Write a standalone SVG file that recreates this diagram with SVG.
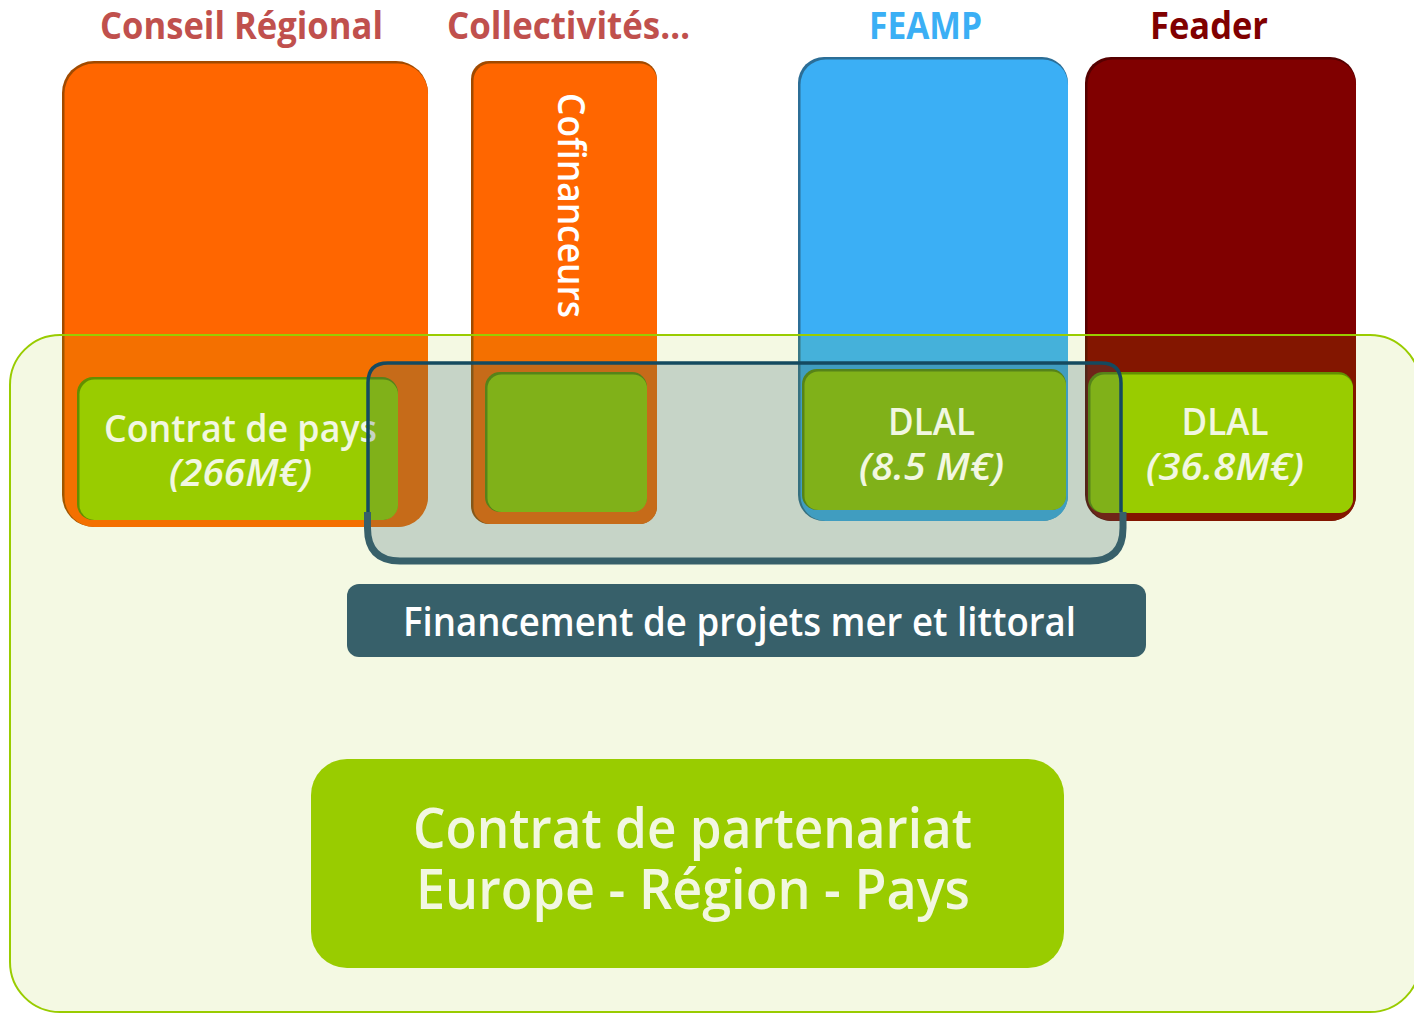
<svg xmlns="http://www.w3.org/2000/svg" width="1414" height="1013" viewBox="0 0 1414 1013">
<style>
text{font-family:"Open Sans","DejaVu Sans",sans-serif;font-weight:600;text-anchor:middle}
.title{font-size:38px;font-weight:bold}
.cream{fill:#F2F7E1}
.mid{font-size:37px}
.it{font-style:italic;font-size:37px}
.green{fill:#99CC00}
.greenEdge{fill:#628F00}
</style>
<rect width="1414" height="1013" fill="#FFFFFF"/>

<g id="title-conseil"><text class="title" x="241.5" y="39" fill="#C0504D" textLength="283" lengthAdjust="spacingAndGlyphs">Conseil Régional</text></g>
<g id="title-collectivites"><text class="title" x="568.5" y="39" fill="#C0504D" textLength="243" lengthAdjust="spacingAndGlyphs">Collectivités…</text></g>
<g id="title-feamp"><text class="title" x="925.5" y="39" fill="#3BAFF5" textLength="113" lengthAdjust="spacingAndGlyphs">FEAMP</text></g>
<g id="title-feader"><text class="title" x="1209" y="39" fill="#800000" textLength="118" lengthAdjust="spacingAndGlyphs">Feader</text></g>

<g id="bar-conseil">
<rect x="62" y="61" width="366" height="466" rx="32" fill="#A04A00"/>
<rect x="64.5" y="63.5" width="363.5" height="463.5" rx="30" fill="#FF6600"/>
</g>
<g id="bar-collectivites">
<rect x="471" y="61" width="186" height="463" rx="18" fill="#A04A00"/>
<rect x="473.5" y="63.5" width="183.5" height="460.5" rx="17" fill="#FF6600"/>
<text x="0" y="0" transform="translate(558,205.5) rotate(90)" font-size="38" font-weight="bold" fill="#FFFFFF" textLength="225" lengthAdjust="spacingAndGlyphs">Cofinanceurs</text>
</g>
<g id="bar-feamp">
<rect x="798" y="57" width="270" height="464" rx="26" fill="#2C6E96"/>
<rect x="800.5" y="59.5" width="267.5" height="461.5" rx="25" fill="#3BAFF5"/>
</g>
<g id="bar-feader">
<rect x="1085" y="57" width="271" height="464" rx="26" fill="#560000"/>
<rect x="1087.5" y="59.5" width="268.5" height="461.5" rx="25" fill="#800000"/>
</g>

<g id="contrat-partenariat-zone">
<rect x="10" y="335" width="1410" height="677" rx="50" fill="#99CC00" fill-opacity="0.11" stroke="#99CC00" stroke-width="2"/>
</g>

<g id="contrat-de-pays">
<rect class="greenEdge" x="77" y="377" width="321" height="143" rx="16"/>
<rect class="green" x="79.5" y="379.5" width="318.5" height="140.5" rx="15"/>
<text class="cream mid" x="240.5" y="442" textLength="273" lengthAdjust="spacingAndGlyphs">Contrat de pays</text>
<text class="cream it" x="240.5" y="486" textLength="143" lengthAdjust="spacingAndGlyphs">(266M€)</text>
</g>
<g id="cofinanceurs-box">
<rect class="greenEdge" x="485" y="372" width="162" height="140" rx="15"/>
<rect class="green" x="487.5" y="374.5" width="159.5" height="137.5" rx="14"/>
</g>
<g id="dlal-feamp">
<rect class="greenEdge" x="802" y="369" width="264" height="141" rx="15"/>
<rect class="green" x="804.5" y="371.5" width="261.5" height="138.5" rx="14"/>
</g>
<g id="dlal-feader">
<rect class="greenEdge" x="1088" y="372" width="265" height="141" rx="15"/>
<rect class="green" x="1090.5" y="374.5" width="262.5" height="138.5" rx="14"/>
<text class="cream mid" x="1225" y="435" textLength="87" lengthAdjust="spacingAndGlyphs">DLAL</text>
<text class="cream it" x="1225" y="480" textLength="158" lengthAdjust="spacingAndGlyphs">(36.8M€)</text>
</g>

<g id="mer-littoral-bracket">
<path d="M368,512 V383 Q368,363 388,363 H1101 Q1121,363 1121,383 V512 V530 Q1121,561 1090,561 H399 Q368,561 368,530 Z" fill="#2E5C6A" fill-opacity="0.23"/>
<path d="M368,512 V383 Q368,363 388,363 H1101 Q1121,363 1121,383 V512" fill="none" stroke="#144A60" stroke-width="3.5"/>
<path d="M367.5,512 V528 Q367.5,561 400,561 H1090 Q1123,561 1123,528 V512" fill="none" stroke="#37606A" stroke-width="7"/>
</g>

<g id="dlal-feamp-label">
<text class="cream mid" x="931.5" y="435" textLength="87" lengthAdjust="spacingAndGlyphs">DLAL</text>
<text class="cream it" x="931.5" y="480" textLength="145" lengthAdjust="spacingAndGlyphs">(8.5 M€)</text>
</g>

<g id="financement-label">
<rect x="347" y="584" width="799" height="73" rx="12" fill="#37606A"/>
<text x="739.5" y="636" font-size="39" font-weight="bold" fill="#FFFFFF" textLength="673" lengthAdjust="spacingAndGlyphs">Financement de projets mer et littoral</text>
</g>

<g id="contrat-partenariat">
<rect x="311" y="759" width="753" height="209" rx="36" fill="#99CC00"/>
<text class="cream" x="692.5" y="848" font-size="56" textLength="559" lengthAdjust="spacingAndGlyphs">Contrat de partenariat</text>
<text class="cream" x="693" y="909" font-size="56" textLength="554" lengthAdjust="spacingAndGlyphs">Europe - Région - Pays</text>
</g>
</svg>
